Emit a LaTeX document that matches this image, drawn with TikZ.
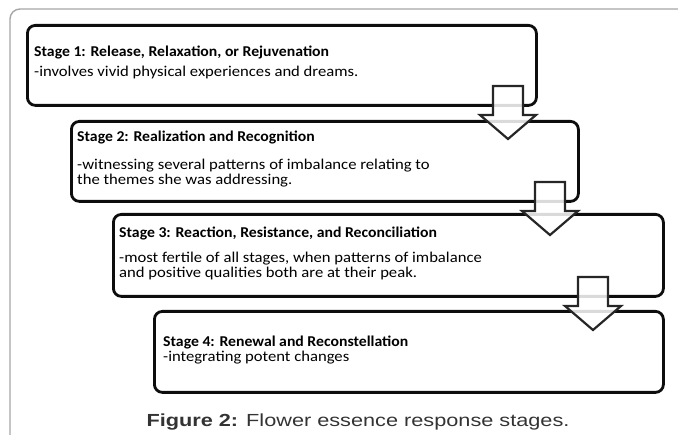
\documentclass[tikz,border=0pt]{standalone}
\usepackage{fontspec}
\setmainfont{Carlito}[FakeStretch=1.11]
\newfontfamily\titlefont{Carlito}[FakeStretch=1.05]
\newfontfamily\capfont{Liberation Sans}[FakeStretch=1.24]
\begin{document}
\begin{tikzpicture}[x=1pt,y=-1pt]
\useasboundingbox (0,0) rectangle (678,435);
\tikzstyle{frame}=[draw=black!35,line width=1.4pt,rounded corners=10pt]
\tikzstyle{stagebox}=[draw=black!95,line width=2.8pt,rounded corners=8pt,anchor=north west,inner sep=0pt]
\tikzstyle{stagetitle}=[anchor=base west,inner sep=0pt,font=\titlefont\fontsize{15}{16}\selectfont\bfseries]
\tikzstyle{stagetext}=[anchor=base west,inner sep=0pt,align=left,font=\fontsize{15}{15.5}\selectfont]
\tikzstyle{stagearrow}=[draw=black!85,line width=2.2pt,fill=white,fill opacity=0.85,line join=miter]
\newcommand{\stagearrow}[1]{\draw[stagearrow] (#1) ++(-15,0) -- ++(30,0) -- ++(0,29) -- ++(13,0) -- ++(-28,24) -- ++(-28,-24) -- ++(13,0) -- cycle;}
% outer frame
\draw[frame] (10,445) -- (10,9) -- (690,9);
% boxes
\node[stagebox,minimum width=509pt,minimum height=80pt] (s1) at (26,24) {};
\node[stagebox,minimum width=507pt,minimum height=80pt] (s2) at (70,120) {};
\node[stagebox,minimum width=550pt,minimum height=82pt] (s3) at (112,213) {};
\node[stagebox,minimum width=509pt,minimum height=81pt] (s4) at (153,310) {};
% texts (multi-line ones sit on their last baseline)
\node[stagetitle] (t1) at (34,57) {Stage 1: Release, Relaxation, or Rejuvenation};
\node[stagetext] (d1) at (34,77) {-involves vivid physical experiences and dreams.};
\node[stagetitle] (t2) at (77,142) {Stage 2: Realization and Recognition};
\node[stagetext] (d2) at (77,185) {-witnessing several patterns of imbalance relating to\\the themes she was addressing.};
\node[stagetitle] (t3) at (119,238) {Stage 3: Reaction, Resistance, and Reconciliation};
\node[stagetext] (d3) at (119,278) {-most fertile of all stages, when patterns of imbalance\\and positive qualities both are at their peak.};
\node[stagetitle] (t4) at (163,347) {Stage 4: Renewal and Reconstellation};
\node[stagetext] (d4) at (163,362) {-integrating potent changes};
% arrows
\coordinate (a1) at (508,86);
\coordinate (a2) at (550,182);
\coordinate (a3) at (593,277);
\stagearrow{a1}
\stagearrow{a2}
\stagearrow{a3}
% caption
\node[anchor=base,inner sep=0pt,text=black!80,font=\capfont\fontsize{17.5}{20}\selectfont] (cap) at (358,427) {\textbf{Figure 2:} Flower essence response stages.};
\end{tikzpicture}
\end{document}
